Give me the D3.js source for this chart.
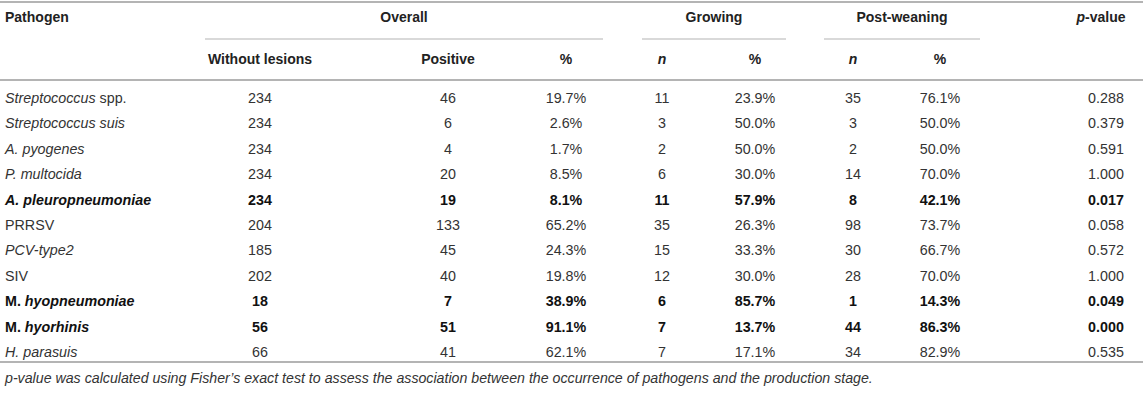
<!DOCTYPE html>
<html>
<head>
<meta charset="utf-8">
<script src="https://cdn.jsdelivr.net/npm/d3@7"></script>
<style>
  body { margin: 0; background: #fff; }
  svg { font-family: "Liberation Sans", Arial, sans-serif; }
</style>
</head>
<body>
<div id="table"></div>
<script>
// names as segments: [text, italic]
const pathogens = [
  [["Streptococcus", true], [" spp.", false]],
  [["Streptococcus suis", true]],
  [["A. pyogenes", true]],
  [["P. multocida", true]],
  [["A. pleuropneumoniae", true]],
  [["PRRSV", false]],
  [["PCV-type2", true]],
  [["SIV", false]],
  [["M.", false], [" hyopneumoniae", true]],
  [["M.", false], [" hyorhinis", true]],
  [["H. parasuis", true]]
];
const withoutLesions = [234, 234, 234, 234, 234, 204, 185, 202, 18, 56, 66];
const positive = [46, 6, 4, 20, 19, 133, 45, 40, 7, 51, 41];
const overallPct = ["19.7%", "2.6%", "1.7%", "8.5%", "8.1%", "65.2%", "24.3%", "19.8%", "38.9%", "91.1%", "62.1%"];
const growingN = [11, 3, 2, 6, 11, 35, 15, 12, 6, 7, 7];
const growingPct = ["23.9%", "50.0%", "50.0%", "30.0%", "57.9%", "26.3%", "33.3%", "30.0%", "85.7%", "13.7%", "17.1%"];
const postN = [35, 3, 2, 14, 8, 98, 30, 28, 1, 44, 34];
const postPct = ["76.1%", "50.0%", "50.0%", "70.0%", "42.1%", "73.7%", "66.7%", "70.0%", "14.3%", "86.3%", "82.9%"];
const pValue = ["0.288", "0.379", "0.591", "1.000", "0.017", "0.058", "0.572", "1.000", "0.049", "0.000", "0.535"];

const groups = ["Overall", "Growing", "Post-weaning"];
const subHeaders = ["Without lesions", "Positive", "%", "n", "%", "n", "%"];
const footnote = "p-value was calculated using Fisher’s exact test to assess the association between the occurrence of pathogens and the production stage.";

const width = 1143, height = 415;

// layout (positions kept apart from the data)
const colKeys = ["wl", "pos", "opct", "gn", "gpct", "pn", "ppct", "pv"];
const colX = d3.scaleOrdinal()
  .domain(colKeys)
  .range([260, 448, 566, 662, 755, 853, 940, 1106]);
const groupSpan = d3.scaleOrdinal()
  .domain(groups)
  .range([[205, 603], [642, 786], [824, 980]]);

const rowIdx = d3.range(pathogens.length);
const y = d3.scalePoint()
  .domain(rowIdx)
  .range([98, 352]);

const svg = d3.select("#table")
  .append("svg")
  .attr("width", width)
  .attr("height", height);

const lineColor = "#b4b4b4";

// horizontal rules
[2, 80, 362].forEach(ly => {
  svg.append("line")
    .attr("x1", 0).attr("x2", width)
    .attr("y1", ly).attr("y2", ly)
    .attr("stroke", lineColor)
    .attr("stroke-width", 2);
});

// header row 1
const head = svg.append("g")
  .style("font-size", "14px")
  .style("font-weight", "bold")
  .attr("fill", "#222");

head.append("text")
  .attr("x", 5).attr("y", 17).attr("dy", "0.35em")
  .text("Pathogen");

head.selectAll("text.group")
  .data(groups)
  .join("text")
  .attr("class", "group")
  .attr("x", d => d3.mean(groupSpan(d)))
  .attr("y", 17).attr("dy", "0.35em")
  .attr("text-anchor", "middle")
  .text(d => d);

const pv = head.append("text")
  .attr("x", 1101).attr("y", 17).attr("dy", "0.35em")
  .attr("text-anchor", "middle");
pv.append("tspan").attr("font-style", "italic").text("p");
pv.append("tspan").text("-value");

svg.selectAll("line.span")
  .data(groups)
  .join("line")
  .attr("class", "span")
  .attr("x1", d => groupSpan(d)[0])
  .attr("x2", d => groupSpan(d)[1])
  .attr("y1", 39).attr("y2", 39)
  .attr("stroke", lineColor)
  .attr("stroke-width", 1.2);

// header row 2
head.selectAll("text.sub")
  .data(subHeaders)
  .join("text")
  .attr("class", "sub")
  .attr("x", (d, i) => colX(colKeys[i]))
  .attr("y", 59).attr("dy", "0.35em")
  .attr("text-anchor", "middle")
  .attr("font-style", d => d === "n" ? "italic" : "normal")
  .text(d => d);

// body
const isBold = i => +pValue[i] < 0.05;

const rows = svg.append("g")
  .style("font-size", "14.3px")
  .selectAll("g.row")
  .data(rowIdx)
  .join("g")
  .attr("class", "row")
  .attr("transform", i => `translate(0,${y(i)})`)
  .attr("font-weight", i => isBold(i) ? "bold" : "normal")
  .attr("fill", i => isBold(i) ? "#111" : "#333");

rows.append("text")
  .attr("x", 5).attr("dy", "0.35em")
  .selectAll("tspan")
  .data(i => pathogens[i])
  .join("tspan")
  .attr("font-style", d => d[1] ? "italic" : "normal")
  .text(d => d[0]);

const cellValues = i => [withoutLesions[i], positive[i], overallPct[i], growingN[i],
  growingPct[i], postN[i], postPct[i], pValue[i]];

rows.selectAll("text.cell")
  .data(i => cellValues(i).map((v, j) => ({ v, key: colKeys[j] })))
  .join("text")
  .attr("class", "cell")
  .attr("x", d => colX(d.key))
  .attr("dy", "0.35em")
  .attr("text-anchor", "middle")
  .text(d => d.v);

// footnote
svg.append("text")
  .attr("x", 5).attr("y", 378).attr("dy", "0.35em")
  .attr("font-style", "italic")
  .attr("fill", "#333")
  .style("font-size", "14.2px")
  .text(footnote);
</script>
</body>
</html>
